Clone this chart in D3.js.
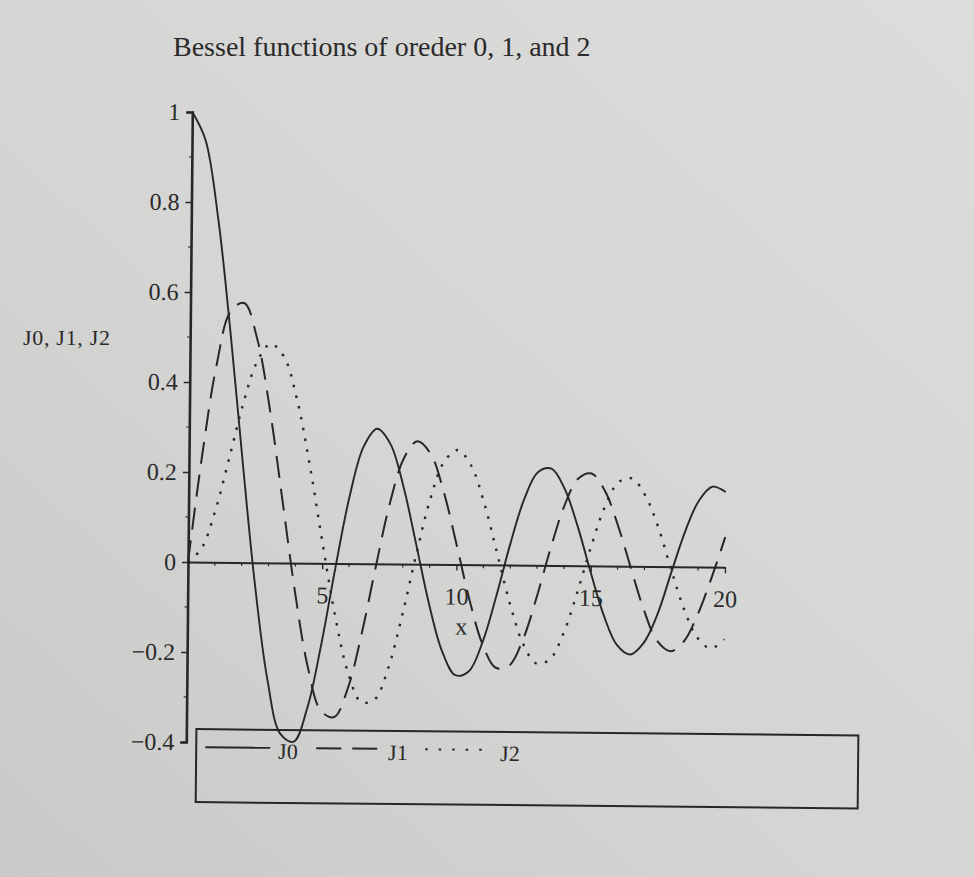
<!DOCTYPE html>
<html>
<head>
<meta charset="utf-8">
<script src="https://cdn.jsdelivr.net/npm/d3@7"></script>
<style>
  html, body { margin: 0; padding: 0; background: #d4d4d2; }
  svg { display: block; }
  text { font-family: "Liberation Serif", "DejaVu Serif", serif; fill: #2a2a2a; }
</style>
</head>
<body>
<svg id="chart" width="974" height="877"></svg>
<script>
// ---- data ----
const xValues = [0,0.5,1,1.5,2,2.5,3,3.5,4,4.5,5,5.5,6,6.5,7,7.5,8,8.5,9,9.5,10,
                 10.5,11,11.5,12,12.5,13,13.5,14,14.5,15,15.5,16,16.5,17,17.5,18,18.5,19,19.5,20];
const J0 = [1.0000,0.9385,0.7652,0.5118,0.2239,-0.0484,-0.2601,-0.3801,-0.3971,-0.3205,-0.1776,
            -0.0068,0.1506,0.2601,0.3001,0.2663,0.1717,0.0419,-0.0903,-0.1939,-0.2459,
            -0.2366,-0.1712,-0.0677,0.0477,0.1469,0.2069,0.2150,0.1711,0.0875,-0.0142,
            -0.1092,-0.1749,-0.1960,-0.1699,-0.1065,-0.0134,0.0777,0.1466,0.1784,0.1670];
const J1 = [0.0000,0.2423,0.4401,0.5579,0.5767,0.4971,0.3391,0.1374,-0.0660,-0.2311,-0.3276,
            -0.3414,-0.2767,-0.1538,-0.0047,0.1352,0.2346,0.2731,0.2453,0.1613,0.0435,
            -0.0789,-0.1768,-0.2284,-0.2234,-0.1655,-0.0703,0.0380,0.1334,0.1934,0.2051,
            0.1672,0.0904,-0.0047,-0.0977,-0.1655,-0.1880,-0.1655,-0.1057,-0.0245,0.0668];
const J2 = [0.0000,0.0307,0.1150,0.2321,0.3528,0.4461,0.4862,0.4586,0.3641,0.2178,0.0466,
            -0.1173,-0.2428,-0.3074,-0.3014,-0.2302,-0.1130,0.0224,0.1448,0.2279,0.2546,
            0.2216,0.1391,0.0280,-0.0849,-0.1734,-0.2177,-0.2094,-0.1520,-0.0608,0.0416,
            0.1308,0.1862,0.1954,0.1584,0.0876,-0.0075,-0.0956,-0.1577,-0.1809,-0.1603];
const seriesNames = ["J0", "J1", "J2"];
const xTicks = [5, 10, 15, 20];
const xTickLabels = ["5", "10", "15", "20"];
const yTicks = [-0.4, -0.2, 0, 0.2, 0.4, 0.6, 0.8, 1];
const yTickLabels = ["\u22120.4", "\u22120.2", "0", "0.2", "0.4", "0.6", "0.8", "1"];
const titleText = "Bessel functions of oreder 0, 1, and 2";
const xLabel = "x";
const yLabel = "J0, J1, J2";

// ---- drawing ----
const ink = "#272727";
const svg = d3.select("#chart");
const defs = svg.append("defs");
const grad = defs.append("linearGradient").attr("id", "paper")
  .attr("x1", "100%").attr("y1", "0%").attr("x2", "0%").attr("y2", "100%");
grad.append("stop").attr("offset", "0%").attr("stop-color", "#dcdcda");
grad.append("stop").attr("offset", "55%").attr("stop-color", "#d5d5d3");
grad.append("stop").attr("offset", "100%").attr("stop-color", "#c9c9c7");
svg.append("rect").attr("width", 974).attr("height", 877).attr("fill", "url(#paper)");

svg.append("text").attr("x", 173).attr("y", 56)
  .attr("font-size", 28).text(titleText);

svg.append("text").attr("x", 23).attr("y", 345)
  .attr("font-size", 22).attr("textLength", 87).attr("lengthAdjust", "spacing")
  .text(yLabel);

const x = d3.scaleLinear().domain([0, 20]).range([188, 725]);
const y = d3.scaleLinear().domain([-0.4, 1]).range([742, 112]);

const g = svg.append("g").attr("transform", `rotate(0.55, ${x(0)}, ${y(0)})`);

// y axis
const yAxis = d3.axisLeft(y).tickValues(yTicks).tickFormat((d, i) => yTickLabels[i])
  .tickSize(6).tickPadding(6);
const ya = g.append("g").attr("transform", `translate(${x(0)},0)`).call(yAxis);
ya.select(".domain").attr("stroke", ink).attr("stroke-width", 2.6);
ya.selectAll(".tick line").attr("stroke", ink).attr("stroke-width", 1.4);
ya.selectAll(".tick text").attr("font-size", 24).attr("font-family", "Liberation Serif").attr("fill", "#2a2a2a");
// minor y ticks
const yMinor = [-0.3, -0.1, 0.1, 0.3, 0.5, 0.7, 0.9];
g.append("g").selectAll("line").data(yMinor).join("line")
  .attr("x1", x(0) - 3).attr("x2", x(0)).attr("y1", d => y(d)).attr("y2", d => y(d))
  .attr("stroke", ink).attr("stroke-width", 1.2);

// x axis through y = 0
const xAxis = d3.axisBottom(x).tickValues(xTicks).tickFormat((d, i) => xTickLabels[i])
  .tickSize(6).tickPadding(17).tickSizeOuter(0);
const xa = g.append("g").attr("transform", `translate(0,${y(0)})`).call(xAxis);
xa.select(".domain").attr("stroke", ink).attr("stroke-width", 2);
xa.selectAll(".tick line").attr("stroke", ink).attr("stroke-width", 1.4);
xa.selectAll(".tick text").attr("font-size", 24).attr("font-family", "Liberation Serif").attr("fill", "#2a2a2a");
const xMinor = [1,2,3,4,6,7,8,9,11,12,13,14,16,17,18,19];
g.append("g").selectAll("line").data(xMinor).join("line")
  .attr("x1", d => x(d)).attr("x2", d => x(d)).attr("y1", y(0)).attr("y2", y(0) + 3.5)
  .attr("stroke", ink).attr("stroke-width", 1.2);

g.append("text").attr("x", x(10.2)).attr("y", y(0) + 70)
  .attr("text-anchor", "middle").attr("font-size", 24).text(xLabel);

// curves
const styles = {
  J0: { dash: null, width: 1.9 },
  J1: { dash: "22,11", width: 2.0 },
  J2: { dash: "2.5,8.5", width: 2.4 }
};
const dataSets = { J0: J0, J1: J1, J2: J2 };
const line = d3.line().x(d => x(d[0])).y(d => y(d[1])).curve(d3.curveCatmullRom);
seriesNames.forEach(name => {
  const pts = xValues.map((xv, i) => [xv, dataSets[name][i]]);
  g.append("path").datum(pts).attr("d", line)
    .attr("fill", "none").attr("stroke", ink)
    .attr("stroke-width", styles[name].width)
    .attr("stroke-dasharray", styles[name].dash);
});

// legend
g.append("rect").attr("x", 198).attr("y", 729).attr("width", 662).attr("height", 73)
  .attr("fill", "none").attr("stroke", ink).attr("stroke-width", 2);
const legendItems = [
  { name: "J0", x1: 207, x2: 272, tx: 280 },
  { name: "J1", x1: 318, x2: 381, tx: 390 },
  { name: "J2", x1: 427, x2: 486, tx: 502 }
];
const legendStyles = { J0: null, J1: "25,11", J2: "2.5,11" };
legendItems.forEach(it => {
  g.append("line").attr("x1", it.x1).attr("x2", it.x2).attr("y1", 747).attr("y2", 747)
    .attr("stroke", ink).attr("stroke-width", 2)
    .attr("stroke-dasharray", legendStyles[it.name]);
  g.append("text").attr("x", it.tx).attr("y", 758).attr("font-size", 22).text(it.name);
});
</script>
</body>
</html>
